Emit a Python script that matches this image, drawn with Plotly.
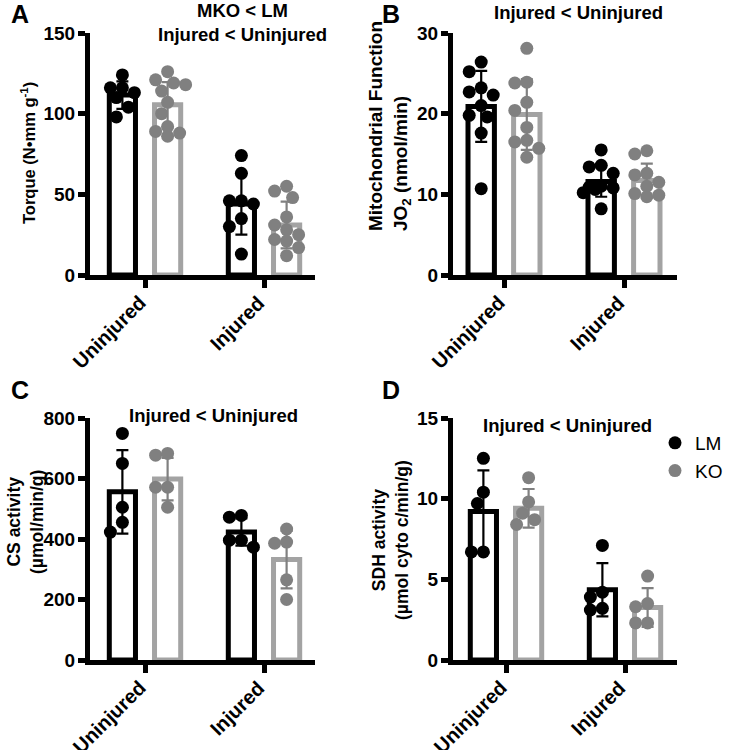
import numpy as np
import plotly.graph_objects as go

# ---------------- data ----------------
categories = ["Uninjured", "Injured"]
group_names = ["LM", "KO"]

# Panel A: Torque (N·mm g^-1)
torque_mean_LM = [111.5, 44.0]
torque_mean_KO = [105.5, 31.0]
torque_sd_LM = [8.5, 19.0]
torque_sd_KO = [14.0, 14.5]
torque_LM_uninjured = [124, 116, 116, 113, 110, 104, 98]
torque_KO_uninjured = [126, 121, 119, 118, 114, 107, 100, 92, 89, 88, 86]
torque_LM_injured = [74, 63, 46, 46, 44, 35, 30, 13]
torque_KO_injured = [55, 52, 48, 36, 31, 28, 25, 22, 21, 17, 12]

# Panel B: Mitochondrial function JO2 (nmol/min)
jo2_mean_LM = [20.9, 11.6]
jo2_mean_KO = [19.9, 11.7]
jo2_sd_LM = [4.4, 1.9]
jo2_sd_KO = [4.4, 2.1]
jo2_LM_uninjured = [26.4, 25.2, 23.2, 22.7, 22.3, 21.0, 19.8, 19.6, 17.6, 10.7]
jo2_KO_uninjured = [28.1, 23.9, 23.8, 21.4, 20.4, 18.3, 16.7, 16.5, 15.7, 14.6]
jo2_LM_injured = [15.5, 13.6, 13.4, 12.6, 11.0, 10.9, 10.8, 10.6, 10.2, 8.2]
jo2_KO_injured = [15.4, 15.0, 12.6, 12.4, 11.5, 11.0, 10.1, 9.9, 9.7]

# Panel C: CS activity (µmol/min/g)
cs_mean_LM = [556, 423]
cs_mean_KO = [598, 332]
cs_sd_LM = [138, 45]
cs_sd_KO = [70, 95]
cs_LM_uninjured = [749, 650, 505, 455, 423]
cs_KO_uninjured = [683, 677, 571, 571, 505]
cs_LM_injured = [478, 472, 396, 396, 373]
cs_KO_injured = [433, 390, 386, 265, 200]

# Panel D: SDH activity (µmol cyto c/min/g)
sdh_mean_LM = [9.2, 4.35]
sdh_mean_KO = [9.4, 3.25]
sdh_sd_LM = [2.55, 1.65]
sdh_sd_KO = [1.2, 1.2]
sdh_LM_uninjured = [12.5, 10.4, 9.7, 6.7, 6.7]
sdh_KO_uninjured = [11.3, 9.8, 9.1, 8.7, 8.4]
sdh_LM_injured = [7.1, 4.2, 3.9, 3.2, 3.1]
sdh_KO_injured = [5.2, 3.5, 3.3, 2.3, 2.3]

panel_letters = ["A", "B", "C", "D"]
y_titles = [
    "Torque (N•mm g<sup>-1</sup>)",
    "Mitochondrial Function<br>JO<sub>2</sub> (nmol/min)",
    "CS activity<br>(µmol/min/g)",
    "SDH activity<br>(µmol cyto c/min/g)",
]
stat_notes = [
    "MKO < LM<br>Injured < Uninjured",
    "Injured < Uninjured",
    "Injured < Uninjured",
    "Injured < Uninjured",
]
y_ranges = [(0, 150), (0, 30), (0, 800), (0, 15)]
y_dticks = [50, 10, 200, 5]

means = [
    (torque_mean_LM, torque_mean_KO),
    (jo2_mean_LM, jo2_mean_KO),
    (cs_mean_LM, cs_mean_KO),
    (sdh_mean_LM, sdh_mean_KO),
]
sds = [
    (torque_sd_LM, torque_sd_KO),
    (jo2_sd_LM, jo2_sd_KO),
    (cs_sd_LM, cs_sd_KO),
    (sdh_sd_LM, sdh_sd_KO),
]
points = [
    ((torque_LM_uninjured, torque_LM_injured), (torque_KO_uninjured, torque_KO_injured)),
    ((jo2_LM_uninjured, jo2_LM_injured), (jo2_KO_uninjured, jo2_KO_injured)),
    ((cs_LM_uninjured, cs_LM_injured), (cs_KO_uninjured, cs_KO_injured)),
    ((sdh_LM_uninjured, sdh_LM_injured), (sdh_KO_uninjured, sdh_KO_injured)),
]

# ---------------- style / layout ----------------
W, H = 742, 750
FONT = "Liberation Sans, Arial, Helvetica, sans-serif"
BLACK = "#000000"
GRAY_PT = "#808080"
GRAY_BAR = "#a3a3a3"
point_colors = [BLACK, GRAY_PT]
bar_colors = [BLACK, GRAY_BAR]
err_colors = [BLACK, GRAY_PT]

def fx(px):
    return px / W

def fy(py):
    return 1 - py / H

# panel geometry in pixels: (x_left, x_right, y_top, y_bottom, x_tick_first, x_tick_second)
geom = [
    (90, 315, 33, 275, 145, 264),
    (453, 677, 33, 275, 504, 624),
    (90, 315, 418, 660, 145, 264),
    (453, 677, 418, 660, 506, 625),
]
GROUP_OFF = 0.19
BAR_W = 0.22
MARK = 13

def swarm(vals, ppu_y, ppu_x, diam=MARK):
    placed = []
    offs = [0.0] * len(vals)
    order = sorted(range(len(vals)), key=lambda i: -vals[i])
    cands = [0, -1, 1, -2, 2, -3, 3]
    step = 6.0
    for i in order:
        yp = vals[i] * ppu_y
        chosen, bestd = None, -1
        for c in cands:
            xp = c * step
            d = min([np.hypot(xp - px, yp - py) for px, py in placed], default=1e9)
            if d >= diam * 0.9:
                chosen = xp
                break
            if d > bestd:
                bestd, chosen = d, xp
        placed.append((chosen, yp))
        offs[i] = chosen / ppu_x
    return offs

fig = go.Figure()
layout = dict(
    width=W, height=H,
    template="none",
    margin=dict(l=0, r=0, t=0, b=0, autoexpand=False),
    paper_bgcolor="white", plot_bgcolor="white",
    font=dict(family=FONT, color="black"),
    showlegend=True,
    barmode="overlay",
    legend=dict(x=fx(655), y=fy(424), xanchor="left", yanchor="top",
                font=dict(family=FONT, size=19, color="black"),
                bgcolor="rgba(0,0,0,0)", tracegroupgap=0, itemwidth=30),
)
annotations = []

for p in range(4):
    xl, xr, yt, yb, t0, t1 = geom[p]
    ppu_x = (t1 - t0)
    r0 = -(t0 - xl) / ppu_x
    r1 = (xr - t0) / ppu_x
    ylo, yhi = y_ranges[p]
    ppu_y = (yb - yt) / (yhi - ylo)
    sfx = "" if p == 0 else str(p + 1)
    xa, ya = "x" + sfx, "y" + sfx

    layout["xaxis" + sfx] = dict(
        domain=[fx(xl), fx(xr)], range=[r0, r1], anchor=ya,
        showline=True, linewidth=5, linecolor="black",
        ticks="outside", ticklen=8, tickwidth=5, tickcolor="black",
        tickvals=[0, 1], showticklabels=False,
        showgrid=False, zeroline=False, fixedrange=True, automargin=False,
    )
    layout["yaxis" + sfx] = dict(
        domain=[fy(yb), fy(yt)], range=[ylo, yhi], anchor=xa,
        showline=True, linewidth=5, linecolor="black",
        ticks="outside", ticklen=7, tickwidth=5, tickcolor="black",
        dtick=y_dticks[p], tick0=0, ticklabelstandoff=-1,
        tickfont=dict(family=FONT, size=19, color="black", weight="bold"),
        showgrid=False, zeroline=False, fixedrange=True, automargin=False,
    )

    # rotated category labels
    for ci, cat in enumerate(categories):
        annotations.append(dict(
            text=cat, x=ci + 8 / ppu_x, y=fy(yb + 14), xref=xa, yref="paper",
            xanchor="right", yanchor="top", showarrow=False, textangle=-45,
            font=dict(family=FONT, size=20, color="black", weight="bold")))

    for g in range(2):
        off = (-1 if g == 0 else 1) * GROUP_OFF
        xs = [i + off for i in range(len(categories))]
        fig.add_trace(go.Bar(
            x=xs, y=means[p][g], width=BAR_W, xaxis=xa, yaxis=ya,
            marker=dict(color="white", line=dict(color=bar_colors[g], width=5)),
            showlegend=False, hoverinfo="skip",
        ))
    for g in range(2):
        off = (-1 if g == 0 else 1) * GROUP_OFF
        px, py = [], []
        for ci in range(len(categories)):
            vals = points[p][g][ci]
            jit = swarm(vals, ppu_y, ppu_x)
            px += [ci + off + j for j in jit]
            py += list(vals)
        fig.add_trace(go.Scatter(
            x=px, y=py, mode="markers", xaxis=xa, yaxis=ya,
            marker=dict(color=point_colors[g], size=MARK, line=dict(width=0)),
            name=group_names[g], showlegend=(p == 3), legendgroup=group_names[g],
        ))
    for g in range(2):
        off = (-1 if g == 0 else 1) * GROUP_OFF
        xs = [i + off for i in range(len(categories))]
        fig.add_trace(go.Scatter(
            x=xs, y=means[p][g], mode="markers", xaxis=xa, yaxis=ya,
            marker=dict(size=1, opacity=0),
            error_y=dict(type="data", array=sds[p][g], visible=True,
                         color=err_colors[g], thickness=2.2, width=6),
            showlegend=False, hoverinfo="skip",
        ))

# panel letters
letter_pos = [(9, 14), (380, 14), (9, 390), (380, 390)]
for p, (lx, ly) in enumerate(letter_pos):
    annotations.append(dict(text=panel_letters[p], x=fx(lx), y=fy(ly), xref="paper", yref="paper",
                            xanchor="left", yanchor="middle", showarrow=False,
                            font=dict(family=FONT, size=25, color="black", weight="bold")))
# stat notes
note_pos = [(242, 23), (578, 13), (214, 415), (567, 425)]
for p, (nx, ny) in enumerate(note_pos):
    annotations.append(dict(text=stat_notes[p], x=fx(nx), y=fy(ny), xref="paper", yref="paper",
                            xanchor="center", yanchor="middle", showarrow=False,
                            font=dict(family=FONT, size=18.5, color="black", weight="bold")))
# y titles
title_pos = [(28, 153), (389, 126), (25, 522), (390, 540)]
title_sizes = [16.5, 19, 17.5, 17.5]
title_align = ["center", "left", "center", "center"]
for p, (tx, ty) in enumerate(title_pos):
    annotations.append(dict(text=y_titles[p], x=fx(tx), y=fy(ty), xref="paper", yref="paper",
                            xanchor="center", yanchor="middle", showarrow=False, textangle=-90,
                            align=title_align[p],
                            font=dict(family=FONT, size=title_sizes[p], color="black", weight="bold")))

layout["annotations"] = annotations
fig.update_layout(**layout)
fig.write_html("out.html", config={"displayModeBar": False},
               post_script="document.body.style.margin='0px';")
